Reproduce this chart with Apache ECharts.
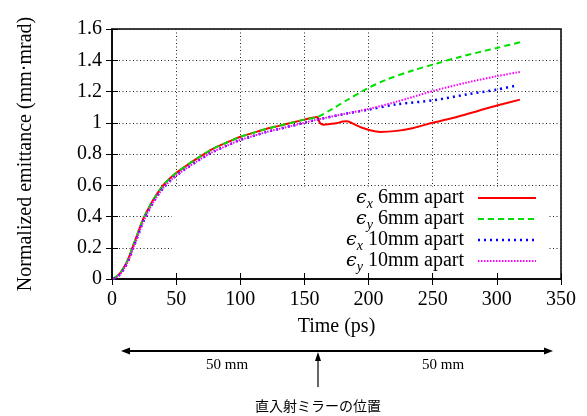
<!DOCTYPE html>
<html>
<head>
<meta charset="utf-8">
<script src="https://cdn.jsdelivr.net/npm/echarts@6/dist/echarts.min.js"></script>
<style>
  html, body { margin: 0; padding: 0; background: #fff; }
  #chart { width: 587px; height: 416px; }
</style>
</head>
<body>
<div id="chart"></div>
<script>
// Emittance growth along the beam line (before and after the mirror at ~160 ps)
const tBefore = [1, 6, 10, 13, 17, 20, 24, 28, 33, 40, 48, 57, 67, 79, 90, 100, 110, 120, 130, 140, 150, 160];
const early6mm = [0, 0.035, 0.085, 0.135, 0.225, 0.29, 0.378, 0.445, 0.518, 0.60, 0.665, 0.72, 0.775, 0.835, 0.875, 0.91, 0.935, 0.96, 0.98, 1.0, 1.02, 1.037];
const early10mm = [0, 0.028, 0.075, 0.122, 0.208, 0.273, 0.36, 0.428, 0.502, 0.583, 0.648, 0.703, 0.757, 0.815, 0.855, 0.89, 0.915, 0.94, 0.96, 0.98, 1.0, 1.02];

const tEx6 = [162, 165, 170, 175, 180, 183, 187, 191, 195, 201, 209, 222, 235, 250, 270, 287, 300, 318];
const ex6 = [1.0, 0.988, 0.992, 0.997, 1.008, 1.01, 0.998, 0.982, 0.968, 0.952, 0.941, 0.948, 0.967, 1.0, 1.04, 1.08, 1.11, 1.148];

const tEy6 = [170, 183, 199, 214, 235, 251, 271, 300, 319];
const ey6 = [1.08, 1.144, 1.219, 1.276, 1.336, 1.374, 1.421, 1.479, 1.517];

const tEx10 = [183, 200, 222, 251, 277, 300, 316];
const ex10 = [1.059, 1.084, 1.118, 1.144, 1.182, 1.212, 1.24];

const tEy10 = [183, 200, 222, 251, 277, 300, 318];
const ey10 = [1.06, 1.088, 1.135, 1.205, 1.258, 1.298, 1.325];

const xTicks = [0, 50, 100, 150, 200, 250, 300, 350];
const yTicks = [0, 0.2, 0.4, 0.6, 0.8, 1.0, 1.2, 1.4, 1.6];

const legendNames = [['x', '6mm apart'], ['y', '6mm apart'], ['x', '10mm apart'], ['y', '10mm apart']];

function pairs(t, v) { return t.map((x, i) => [x, v[i]]); }
function join(tA, vA, tB, vB) { return pairs(tA, vA).concat(pairs(tB, vB)); }

const SERIF = "'Liberation Serif', 'Times New Roman', serif";
const GREEK = "'DejaVu Serif', 'Liberation Serif', serif";

const styles = [
  { color: '#ff0000', width: 2, type: 'solid' },
  { color: '#00e000', width: 2, type: [6, 4] },
  { color: '#0000ff', width: 2.5, type: [2, 4] },
  { color: '#ff00ff', width: 2, type: [1.5, 1.5] }
];

const seriesData = [
  join(tBefore, early6mm, tEx6, ex6),
  join(tBefore, early6mm, tEy6, ey6),
  join(tBefore, early10mm, tEx10, ex10),
  join(tBefore, early10mm, tEy10, ey10)
];

const chart = echarts.init(document.getElementById('chart'), null, { renderer: 'canvas' });

const gridBox = { left: 112, top: 29, right: 26, bottom: 137 };

const axisLabelStyle = { fontFamily: SERIF, fontSize: 20, color: '#000' };
const gridLine = { show: true, lineStyle: { color: '#222', width: 1, type: [1, 2.5] } };

// legend block: text right-aligned, line sample to its right
const legendElems = [];
legendNames.forEach((n, i) => {
  const y = 198 + i * 21;
  legendElems.push({
    type: 'text', z: 5,
    x: 464, y: y,
    style: {
      text: '{e|\u03f5}{s|' + n[0] + '}{t| ' + n[1] + '}',
      align: 'right', verticalAlign: 'middle',
      rich: {
        e: { fontFamily: GREEK, fontSize: 19, fontStyle: 'italic', fill: '#000' },
        s: { fontFamily: SERIF, fontSize: 14, fontStyle: 'italic', fill: '#000', padding: [13, 0, 0, 0] },
        t: { fontFamily: SERIF, fontSize: 20, fill: '#000' }
      }
    }
  });
  legendElems.push({
    type: 'line', z: 5,
    shape: { x1: 478, y1: y, x2: 536, y2: y },
    style: { stroke: styles[i].color, lineWidth: styles[i].width, lineDash: styles[i].type === 'solid' ? null : styles[i].type }
  });
});

function arrowHead(x, y, dir) {
  // dir: 'left' | 'right' | 'up'
  let pts;
  if (dir === 'left') pts = [[x, y], [x + 9, y - 3.5], [x + 9, y + 3.5]];
  else if (dir === 'right') pts = [[x, y], [x - 9, y - 3.5], [x - 9, y + 3.5]];
  else pts = [[x, y], [x - 3, y + 9], [x + 3, y + 9]];
  return { type: 'polygon', z: 5, shape: { points: pts }, style: { fill: '#000' } };
}

const annot = [
  // white area behind the legend (grid lines stop here)
  { type: 'rect', z: 1, shape: { x: 172, y: 187, width: 376, height: 86 }, style: { fill: '#fff' } },
  { type: 'line', z: 5, shape: { x1: 124, y1: 351, x2: 550, y2: 351 }, style: { stroke: '#000', lineWidth: 2 } },
  arrowHead(121, 351, 'left'),
  arrowHead(553, 351, 'right'),
  { type: 'line', z: 5, shape: { x1: 318, y1: 358, x2: 318, y2: 387 }, style: { stroke: '#000', lineWidth: 1.2 } },
  arrowHead(318, 352, 'up'),
  { type: 'text', z: 5, x: 227, y: 365, style: { text: '50 mm', font: '15px ' + SERIF, fill: '#000', align: 'center', verticalAlign: 'middle' } },
  { type: 'text', z: 5, x: 443, y: 365, style: { text: '50 mm', font: '15px ' + SERIF, fill: '#000', align: 'center', verticalAlign: 'middle' } },
  { type: 'text', z: 5, x: 318, y: 406, style: { text: '直入射ミラーの位置', font: "14px 'Noto Sans CJK JP', sans-serif", fill: '#000', align: 'center', verticalAlign: 'middle' } }
];

const option = {
  backgroundColor: '#fff',
  animation: false,
  grid: Object.assign({ show: true, borderColor: '#000', borderWidth: 1.5, backgroundColor: 'transparent' }, gridBox),
  xAxis: [{
    type: 'value', min: xTicks[0], max: xTicks[xTicks.length - 1], interval: 50,
    name: 'Time (ps)', nameLocation: 'middle', nameGap: 38,
    nameTextStyle: { fontFamily: SERIF, fontSize: 20, color: '#000' },
    axisLine: { show: true, onZero: false, lineStyle: { color: '#000', width: 1.5 } },
    axisTick: { show: true, inside: true, length: 6, lineStyle: { color: '#000', width: 1 } },
    axisLabel: Object.assign({ margin: 11 }, axisLabelStyle),
    splitLine: gridLine
  }, {
    type: 'value', position: 'top', min: 0, max: 350, interval: 50,
    axisLine: { show: false },
    axisTick: { show: true, inside: true, length: 6, lineStyle: { color: '#000', width: 1 } },
    axisLabel: { show: false }, splitLine: { show: false }
  }],
  yAxis: [{
    type: 'value', min: yTicks[0], max: yTicks[yTicks.length - 1], interval: 0.2,
    name: 'Normalized emittance (mm\u00b7mrad)', nameLocation: 'middle', nameGap: 76, nameRotate: 90,
    nameTextStyle: { fontFamily: SERIF, fontSize: 20, color: '#000' },
    axisLine: { show: true, onZero: false, lineStyle: { color: '#000', width: 1.5 } },
    axisTick: { show: true, inside: true, length: 6, lineStyle: { color: '#000', width: 1 } },
    axisLabel: Object.assign({ margin: 10, formatter: v => String(+v.toFixed(1)) }, axisLabelStyle),
    splitLine: gridLine
  }, {
    type: 'value', position: 'right', min: 0, max: 1.6, interval: 0.2,
    axisLine: { show: false },
    axisTick: { show: true, inside: true, length: 6, lineStyle: { color: '#000', width: 1 } },
    axisLabel: { show: false }, splitLine: { show: false }
  }],
  graphic: legendElems.concat(annot),
  series: seriesData.map((d, i) => ({
    type: 'line', data: d, xAxisIndex: 0, yAxisIndex: 0, z: 3,
    showSymbol: false, smooth: 0.3,
    lineStyle: { color: styles[i].color, width: styles[i].width, type: styles[i].type }
  }))
};

chart.setOption(option);
</script>
</body>
</html>
